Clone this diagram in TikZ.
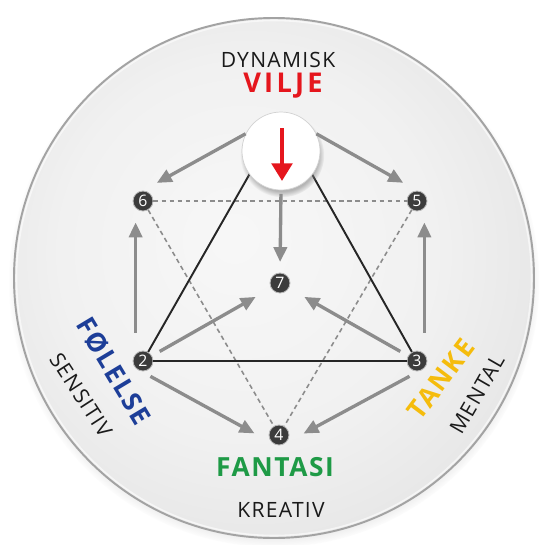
\documentclass[tikz,border=0pt]{standalone}
\usepackage{fontspec}
\setmainfont{Open Sans}
\newfontfamily\lblfont[LetterSpace=6]{Open Sans}
\newfontfamily\widefont[LetterSpace=12]{Open Sans}
\usetikzlibrary{arrows.meta, shadows, fadings}

\definecolor{viljered}{HTML}{E5161D}
\definecolor{folblue}{HTML}{1D3E98}
\definecolor{tankeyel}{HTML}{F5BC0C}
\definecolor{fantgreen}{HTML}{1E9A46}
\definecolor{dotgray}{HTML}{3B3B3B}
\definecolor{arrgray}{HTML}{8C8C8C}
\definecolor{txtgray}{HTML}{1A1A1A}

\pgfdeclareradialshading{discshade}{\pgfpoint{-4bp}{4bp}}{%
  color(0bp)=(gray!6); color(18bp)=(gray!11); color(40bp)=(gray!28); color(50bp)=(gray!36)}
\pgfdeclareradialshading{ballshade}{\pgfpoint{-3bp}{5bp}}{%
  color(0bp)=(white); color(26bp)=(white); color(42bp)=(gray!20); color(50bp)=(gray!40)}

\begin{document}
\begin{tikzpicture}[
  x=0.02cm, y=-0.02cm,
  font=\lblfont,
  num/.style={circle, inner sep=0pt, minimum size=0.4cm, fill=dotgray, draw=gray!55,
    line width=0.5pt, text=white, font=\lblfont\fontsize{9}{9}\selectfont},
  ballnode/.style={circle, inner sep=0pt, minimum size=1.56cm, shading=ballshade,
    draw=gray!35, line width=0.4pt,
    circular drop shadow={shadow xshift=0.6pt, shadow yshift=-2.2pt, shadow scale=1.08, opacity=0.55}},
  garrow/.style={-{Triangle[length=8.5pt, width=7.5pt]}, arrgray, line width=1.9pt},
  dashln/.style={arrgray, line width=0.9pt, dash pattern=on 2.6pt off 2pt},
  triln/.style={black!85, line width=1.1pt},
  headlbl/.style={inner sep=0.5pt, font=\lblfont\bfseries\fontsize{15}{16}\selectfont},
  sublbl/.style={inner sep=0.5pt, text=txtgray, font=\lblfont\fontsize{12}{13}\selectfont},
]

\useasboundingbox (0,0) rectangle (541,545);
\fill[white] (0,0) rectangle (541,545);

% ---- disc ----
\shade[shading=discshade,
  circular drop shadow={shadow xshift=0pt, shadow yshift=-2.2pt, shadow scale=1.02, opacity=0.5}]
  (274,278) circle (260);
\draw[gray!72, line width=1.1pt] (274,278) circle (260);
\draw[white, line width=0.9pt, opacity=0.6] (274,278) circle (257.5);

% ---- numbered points ----
\node[num] (n6) at (143,201) {6};
\node[num] (n5) at (417,201) {5};
\node[num] (n7) at (280,283) {7};
\node[num] (n2) at (143,361) {2};
\node[num] (n3) at (417,361) {3};
\node[num] (n4) at (279,435) {4};
\coordinate (apex) at (281,119);

% ---- dashed triangle ----
\draw[dashln] (n6) -- (n5);
\draw[dashln] (n6) -- (n4);
\draw[dashln] (n5) -- (n4);

% ---- solid triangle (apex hidden by the ball) ----
\draw[triln] (apex) -- (n2);
\draw[triln] (apex) -- (n3);
\draw[triln, line width=1.4pt] (n2) -- (n3);

% ---- will ball ----
\node[ballnode] (vilje) at (281,151) {};
\coordinate (rtop) at (282,128);
\coordinate (rtip) at (282,181);
\draw[-{Triangle[length=10pt, width=11.5pt]}, viljered, line width=2.8pt] (rtop) -- (rtip);

% ---- grey arrows ----
\draw[garrow, shorten >=9pt] (vilje.154) -- (n6.north);
\draw[garrow, shorten >=9pt] (vilje.26) -- (n5.north);
\draw[garrow, shorten <=2pt, shorten >=6pt] (vilje.south) -- (n7.north);
\draw[garrow, shorten <=12pt, shorten >=8pt] (n2.north west) -- (n6.south west);
\draw[garrow, shorten <=12pt, shorten >=8pt] (n3.north east) -- (n5.south east);
\draw[garrow, shorten <=5pt, shorten >=10pt] (n2.30) -- (n7.210);
\draw[garrow, shorten <=5pt, shorten >=10pt] (n3.150) -- (n7.330);
\draw[garrow, shorten <=6pt, shorten >=12pt] (n2.-100) -- (n4.235);
\draw[garrow, shorten <=6pt, shorten >=12pt] (n3.280) -- (n4.305);

% ---- labels ----
\node[sublbl] (dynlbl) at (278,60) {DYNAMISK};
\node[headlbl, text=viljered, font=\widefont\bfseries\fontsize{15.5}{16}\selectfont] (viljelbl) at (283,86) {VILJE};
\node[headlbl, text=folblue, rotate=-59] (follbl) at (114,371) {FØLELSE};
\node[sublbl, rotate=-57] (senlbl) at (81,395) {SENSITIV};
\node[headlbl, text=tankeyel, rotate=53] (tanlbl) at (441,379) {TANKE};
\node[sublbl, rotate=60] (menlbl) at (477,394) {MENTAL};
\node[headlbl, text=fantgreen] (fanlbl) at (275,467) {FANTASI};
\node[sublbl] (krelbl) at (281,510) {KREATIV};

\end{tikzpicture}
\end{document}
